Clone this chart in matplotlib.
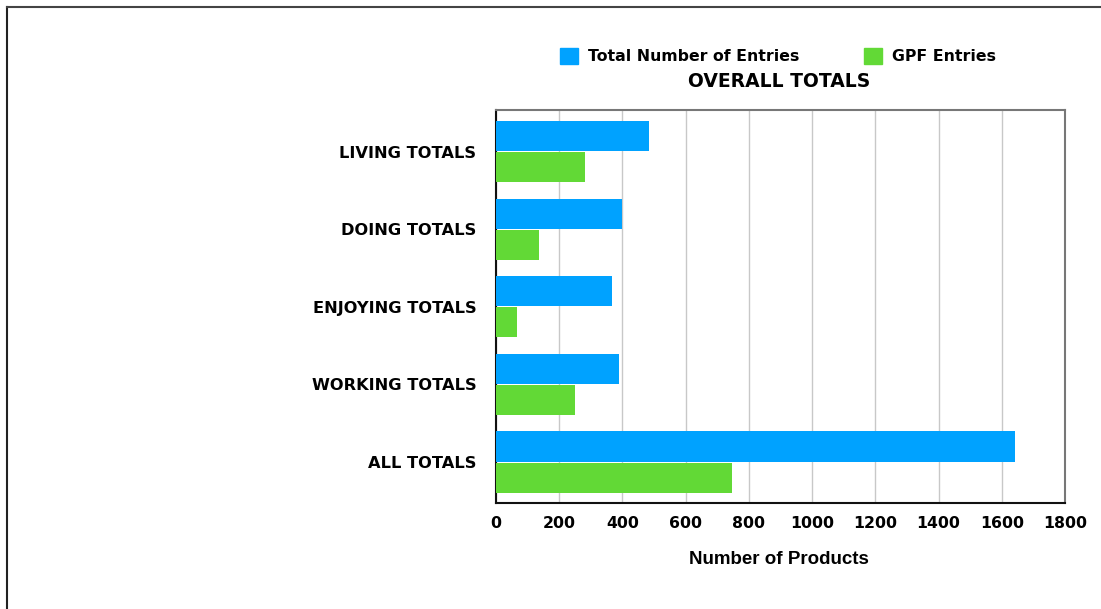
import matplotlib
matplotlib.use("Agg")
import matplotlib.pyplot as plt
import numpy as np
from matplotlib.patches import Rectangle
from matplotlib.lines import Line2D

categories = ["LIVING TOTALS", "DOING TOTALS", "ENJOYING TOTALS", "WORKING TOTALS", "ALL TOTALS"]
total_entries = [484, 399, 367, 389, 1642]
gpf_entries = [282, 136, 66, 250, 747]
xticks = [0, 200, 400, 600, 800, 1000, 1200, 1400, 1600, 1800]

W, H = 1101, 609
fig = plt.figure(figsize=(W/100, H/100), dpi=100)
ax = fig.add_axes([496/W, 1-503/H, (1065-496)/W, (503-110)/H])

blue = "#00A2FF"
green = "#62D936"
y = np.arange(len(categories))
bh = 0.387
ax.barh(y - 0.2, total_entries, height=bh, color=blue, zorder=3)
ax.barh(y + 0.2, gpf_entries, height=bh, color=green, zorder=3)
ax.set_ylim(4.528, -0.535)
ax.set_yticks(y)
ax.set_yticklabels(categories, fontsize=11.7, fontweight="bold", family="DejaVu Sans")
ax.set_xlim(0, 1800)
ax.set_xticks(xticks)
ax.set_xticklabels([str(v) for v in xticks], fontsize=11.3, fontweight="bold", family="DejaVu Sans")
ax.tick_params(axis="both", length=0)
ax.tick_params(axis="x", pad=9)
ax.tick_params(axis="y", pad=14)
ax.grid(axis="x", color="#c8c8c8", linewidth=1, zorder=0)
for s in ["left", "bottom"]:
    ax.spines[s].set_color("#111111")
    ax.spines[s].set_linewidth(1.5)
for s in ["top", "right"]:
    ax.spines[s].set_color("#777777")
    ax.spines[s].set_linewidth(1.5)

fig.text(779/W, 1-560/H, "Number of Products", fontsize=13.5, fontweight="bold", family="Liberation Sans",
         ha="center", va="center")

fig.text(779/W, 1-81.5/H, "OVERALL TOTALS", fontsize=13.5, fontweight="bold", family="DejaVu Sans",
         ha="center", va="center")

# legend
handles = [Rectangle((0, 0), 1, 1, color=blue), Rectangle((0, 0), 1, 1, color=green)]
leg = fig.legend(handles, ["Total Number of Entries", "GPF Entries"], loc="center",
                 bbox_to_anchor=(778/W, 1-56/H), ncol=2, frameon=False,
                 prop={"family": "DejaVu Sans", "weight": "bold", "size": 11.3},
                 handlelength=1.15, handleheight=1.15, columnspacing=4.1, handletextpad=0.65)

# outer frame
fig.add_artist(Line2D([7/W, 7/W], [0, 1-7/H], color="#222222", lw=1.5, transform=fig.transFigure))
fig.add_artist(Line2D([7/W, 1], [1-7/H, 1-7/H], color="#444444", lw=1.5, transform=fig.transFigure))

fig.savefig("out.png", dpi=100)
